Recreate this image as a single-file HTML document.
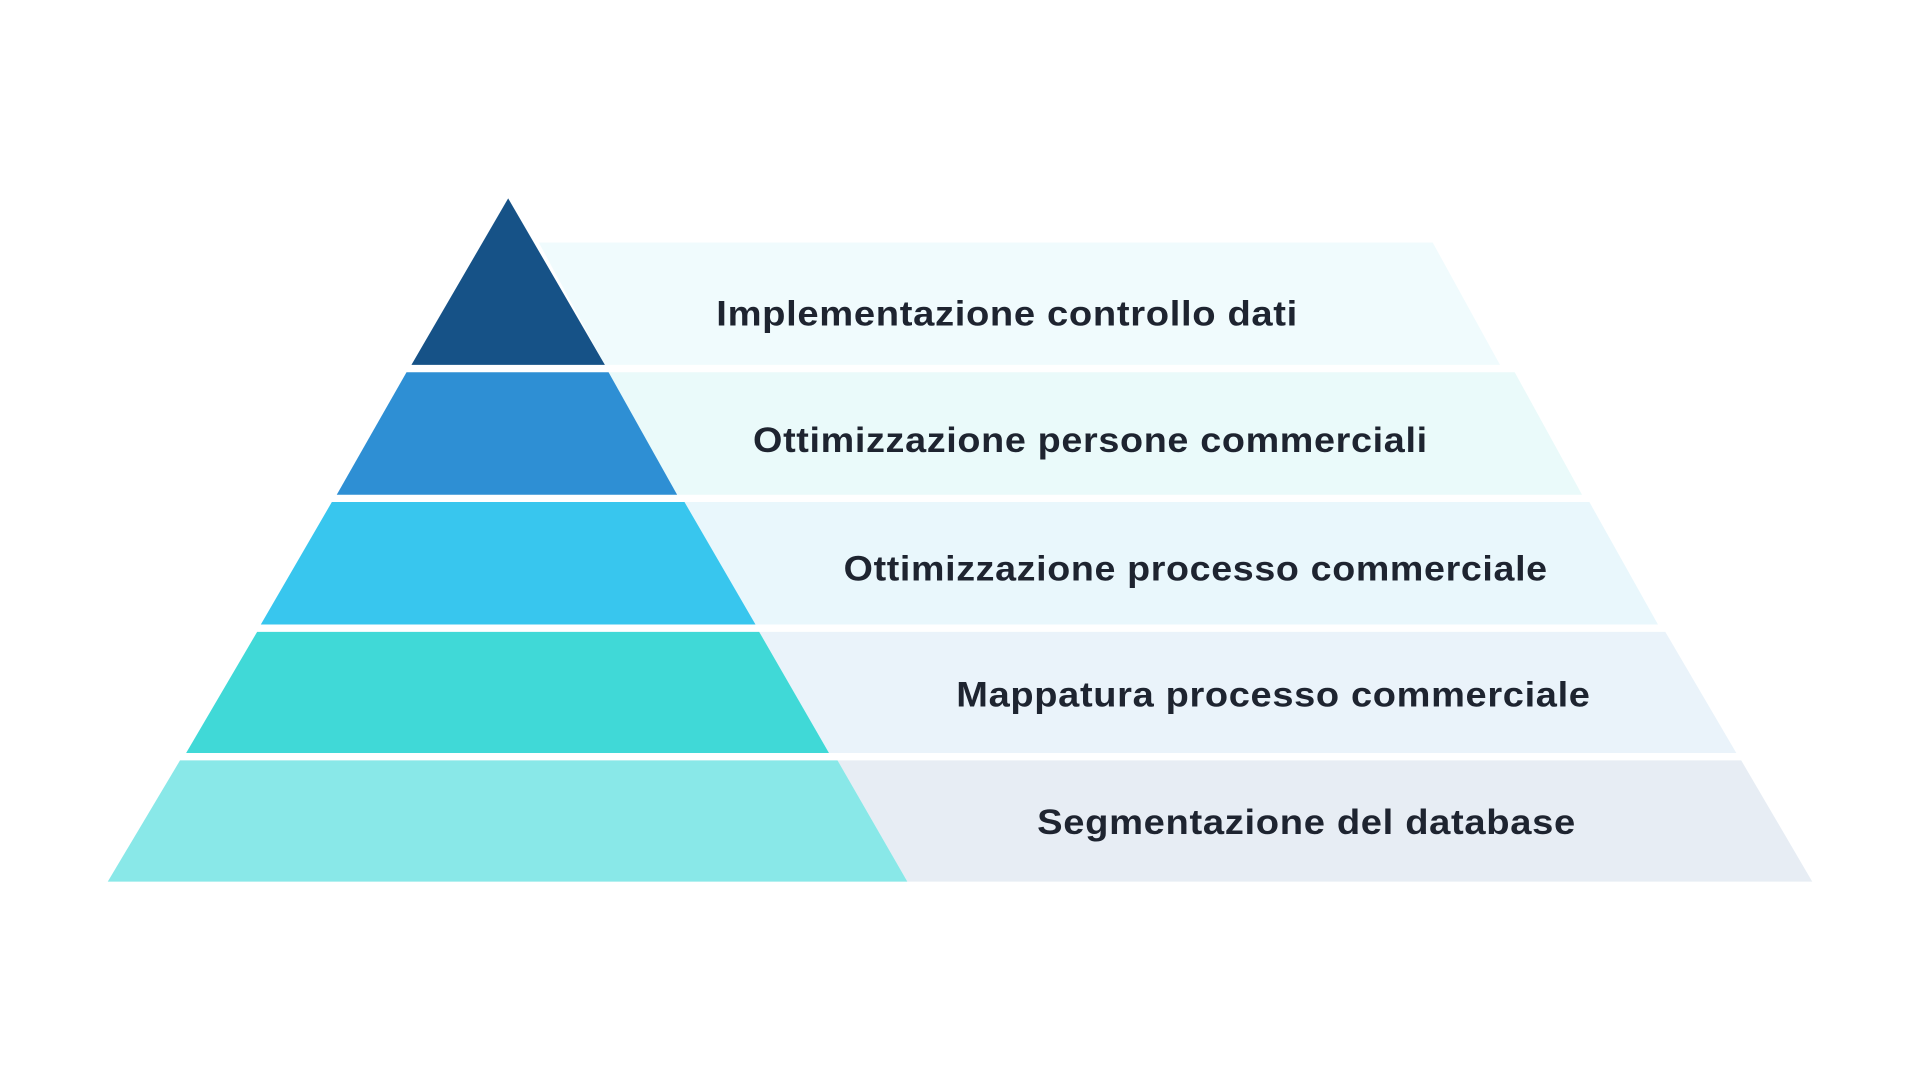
<!DOCTYPE html>
<html><head><meta charset="utf-8"><style>html,body{margin:0;padding:0;background:#fff}svg{display:block}</style></head>
<body>
<svg width="1920" height="1080" viewBox="0 0 1568 882" xmlns="http://www.w3.org/2000/svg">
<rect width="1568" height="882" fill="#fff"/>
<!-- bands -->
<polygon points="440,198 1170,198 1225,298 494,298" fill="#f0fbfd"/>
<polygon points="497,304 1237,304 1292,404 553,404" fill="#eafafa"/>
<polygon points="559,410 1298,410 1354,510 617,510" fill="#e9f7fc"/>
<polygon points="620,516 1360,516 1418,615 677,615" fill="#eaf3fa"/>
<polygon points="684,621 1422,621 1480,720 741,720" fill="#e7edf4"/>
<!-- triangle tiers -->
<polygon points="415,162 494,298 336,298" fill="#165287"/>
<polygon points="332,304 497,304 553,404 275,404" fill="#2e8fd4"/>
<polygon points="271,410 559,410 617,510 213,510" fill="#38c6ee"/>
<polygon points="210,516 620,516 677,615 152,615" fill="#40d9d7"/>
<polygon points="147,621 684,621 741,720 88,720" fill="#89e8e8"/>
<g font-family="Liberation Sans, sans-serif" font-size="29" fill="#1e2430" font-weight="bold" letter-spacing="0.5">
<text x="585" y="266" textLength="475" lengthAdjust="spacingAndGlyphs">Implementazione controllo dati</text>
<text x="615" y="369" textLength="551" lengthAdjust="spacingAndGlyphs">Ottimizzazione persone commerciali</text>
<text x="689" y="474" textLength="575" lengthAdjust="spacingAndGlyphs">Ottimizzazione processo commerciale</text>
<text x="781" y="577" textLength="518" lengthAdjust="spacingAndGlyphs">Mappatura processo commerciale</text>
<text x="847" y="681" textLength="440" lengthAdjust="spacingAndGlyphs">Segmentazione del database</text>
</g>
</svg>
</body></html>
